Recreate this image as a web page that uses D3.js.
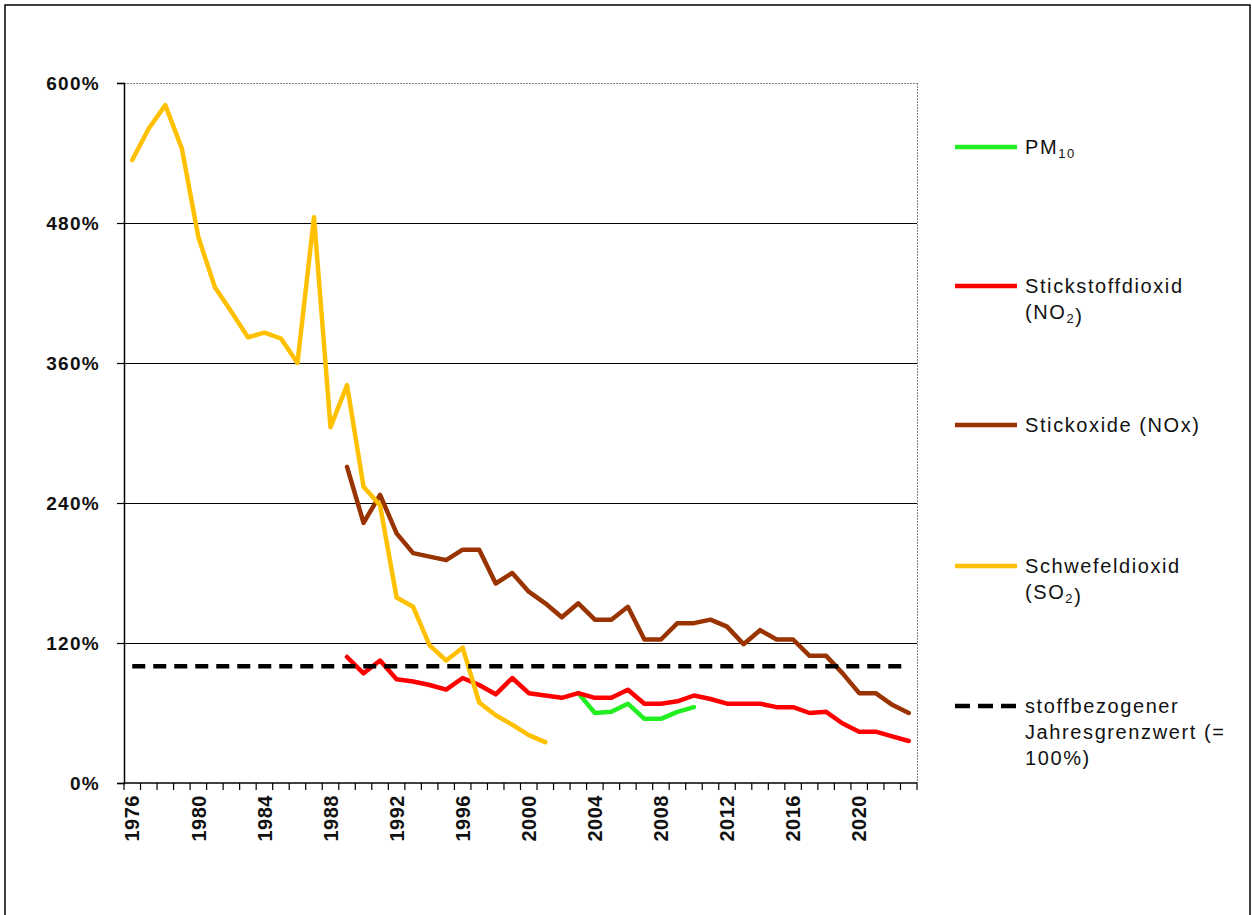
<!DOCTYPE html>
<html><head><meta charset="utf-8">
<script src="https://cdn.jsdelivr.net/npm/d3@7"></script>
<style>
body{margin:0;background:#fff}
svg{display:block}
text{font-family:"Liberation Sans", Arial, sans-serif;}
</style>
</head><body>
<svg id="c" width="1252" height="915"></svg>
<script>
// ---- data ----
const years = [1976,1977,1978,1979,1980,1981,1982,1983,1984,1985,1986,1987,1988,1989,1990,1991,1992,1993,1994,1995,1996,1997,1998,1999,2000,2001,2002,2003,2004,2005,2006,2007,2008,2009,2010,2011,2012,2013,2014,2015,2016,2017,2018,2019,2020,2021,2022,2023];
const yearLabels = [1976,1980,1984,1988,1992,1996,2000,2004,2008,2012,2016,2020];
const yTicks = [0,120,240,360,480,600];

const pm10Start = 2003;
const pm10 = [77,60,61,68,55,55,61,65];
const no2Start = 1989;
const no2 = [108,94,105,89,87,84,80,90,84,76,90,77,75,73,77,73,73,80,68,68,70,75,72,68,68,68,65,65,60,61,51,44,44,40,36];
const noxStart = 1989;
const nox = [271,223,247,214,197,194,191,200,200,171,180,164,154,142,154,140,140,151,123,123,137,137,140,134,119,131,123,123,109,109,94,77,77,67,60];
const so2Start = 1976;
const so2 = [534,561,581,544,468,425,404,382,386,381,360,485,305,341,254,238,159,151,118,105,116,69,58,50,41,35];
const limitValue = 100;

const series = [
  {name:"PM10", start:pm10Start, values:pm10, color:"#22ee22"},
  {name:"NO2", start:no2Start, values:no2, color:"#ff0000"},
  {name:"NOx", start:noxStart, values:nox, color:"#993300"},
  {name:"SO2", start:so2Start, values:so2, color:"#ffc000"}
];

// ---- layout ----
const svg = d3.select("#c");
const L = 124, R = 917, T = 83, B = 783;

svg.append("rect").attr("x",5).attr("y",5).attr("width",1245).attr("height",930)
  .attr("fill","#fff").attr("stroke","#000").attr("stroke-width",1.5);

const x = d3.scaleBand().domain(years).range([L,R]).paddingInner(0).paddingOuter(0);
const y = d3.scaleLinear().domain([0,600]).range([B,T]);
const cx = yr => x(yr) + x.bandwidth()/2;

// gridlines
svg.append("g").attr("shape-rendering","crispEdges").selectAll("line").data(yTicks.filter(d=>d>0 && d<600)).join("line")
  .attr("x1",L).attr("x2",R).attr("y1",d=>y(d)).attr("y2",d=>y(d))
  .attr("stroke","#000").attr("stroke-width",1);
// top & right border of plot area (dotted gray)
svg.append("line").attr("x1",L).attr("x2",R).attr("y1",y(600)).attr("y2",y(600)).attr("shape-rendering","crispEdges")
  .attr("stroke","#808080").attr("stroke-width",1).attr("stroke-dasharray","2,1");
svg.append("line").attr("x1",R).attr("x2",R).attr("y1",T).attr("y2",B).attr("shape-rendering","crispEdges")
  .attr("stroke","#808080").attr("stroke-width",1).attr("stroke-dasharray","2,1");

// y axis
const yAxis = svg.append("g").attr("transform",`translate(${L},0)`)
  .call(d3.axisLeft(y).tickValues(yTicks).tickSize(7).tickPadding(17).tickFormat(d=>d+"%"));
yAxis.select(".domain").attr("stroke","#000").attr("stroke-width",1.5);
yAxis.selectAll(".tick line").attr("stroke","#000").attr("stroke-width",1.2);
yAxis.selectAll("text").attr("font-family","'Liberation Sans', Arial, sans-serif")
  .attr("font-size",19).attr("font-weight","bold").attr("fill","#111").style("letter-spacing","1.3px");

// x axis: boundary ticks
const bounds = years.map(yr=>x(yr)).concat([R]);
svg.append("line").attr("x1",L).attr("x2",R).attr("y1",B).attr("y2",B).attr("stroke","#000").attr("stroke-width",1.5);
svg.append("g").selectAll("line").data(bounds).join("line")
  .attr("x1",d=>d).attr("x2",d=>d).attr("y1",B).attr("y2",B+7).attr("stroke","#000").attr("stroke-width",1.2);
svg.append("g").selectAll("text").data(yearLabels).join("text")
  .attr("transform",d=>`translate(${cx(d)},${B+12}) rotate(-90)`)
  .attr("text-anchor","end").attr("dy","0.36em")
  .attr("font-size",20).attr("font-weight","bold").attr("fill","#111").style("letter-spacing","0.5px")
  .text(d=>d);

// series lines
const line = d3.line().x(d=>cx(d.year)).y(d=>y(d.v)).curve(d3.curveLinear);
series.forEach(s=>{
  const pts = s.values.map((v,i)=>({year:s.start+i, v}));
  svg.append("path").datum(pts).attr("d",line)
    .attr("fill","none").attr("stroke",s.color).attr("stroke-width",4.5)
    .attr("stroke-linejoin","round").attr("stroke-linecap","round");
});

// limit line
svg.append("line").attr("x1",cx(years[0])).attr("x2",cx(years[years.length-1]))
  .attr("y1",y(limitValue)).attr("y2",y(limitValue))
  .attr("stroke","#000").attr("stroke-width",4.5).attr("stroke-dasharray","13,8");

// legend
const lg = svg.append("g").attr("font-size",20).attr("fill","#111").style("letter-spacing","1.6px");
const LX1 = 955, LX2 = 1017, TX = 1025, LH = 26;
const legendItems = [
  {y:147, color:"#22ee22", lines:[[["PM",false],["10",true]]]},
  {y:286, color:"#ff0000", lines:[[["Stickstoffdioxid",false]],[["(NO",false],["2",true],[")",false]]]},
  {y:425, color:"#993300", lines:[[["Stickoxide (NOx)",false]]]},
  {y:566, color:"#ffc000", lines:[[["Schwefeldioxid",false]],[["(SO",false],["2",true],[")",false]]]},
  {y:706, color:"#000", dash:true, lines:[[["stoffbezogener",false]],[["Jahresgrenzwert (=",false]],[["100%)",false]]]}
];
legendItems.forEach(it=>{
  const l = lg.append("line").attr("x1",LX1).attr("x2",LX2).attr("y1",it.y).attr("y2",it.y)
    .attr("stroke",it.color).attr("stroke-width",4.5);
  if(it.dash) l.attr("stroke-dasharray","15,8").attr("x2",LX2+2);
  it.lines.forEach((parts,i)=>{
    const t = lg.append("text").attr("x",TX).attr("y",it.y+7+i*LH);
    parts.forEach(([txt,sub])=>{
      const ts = t.append("tspan").text(txt);
      if(sub) ts.attr("font-size",13).attr("dy",4);
    });
  });
});
</script>
</body></html>
